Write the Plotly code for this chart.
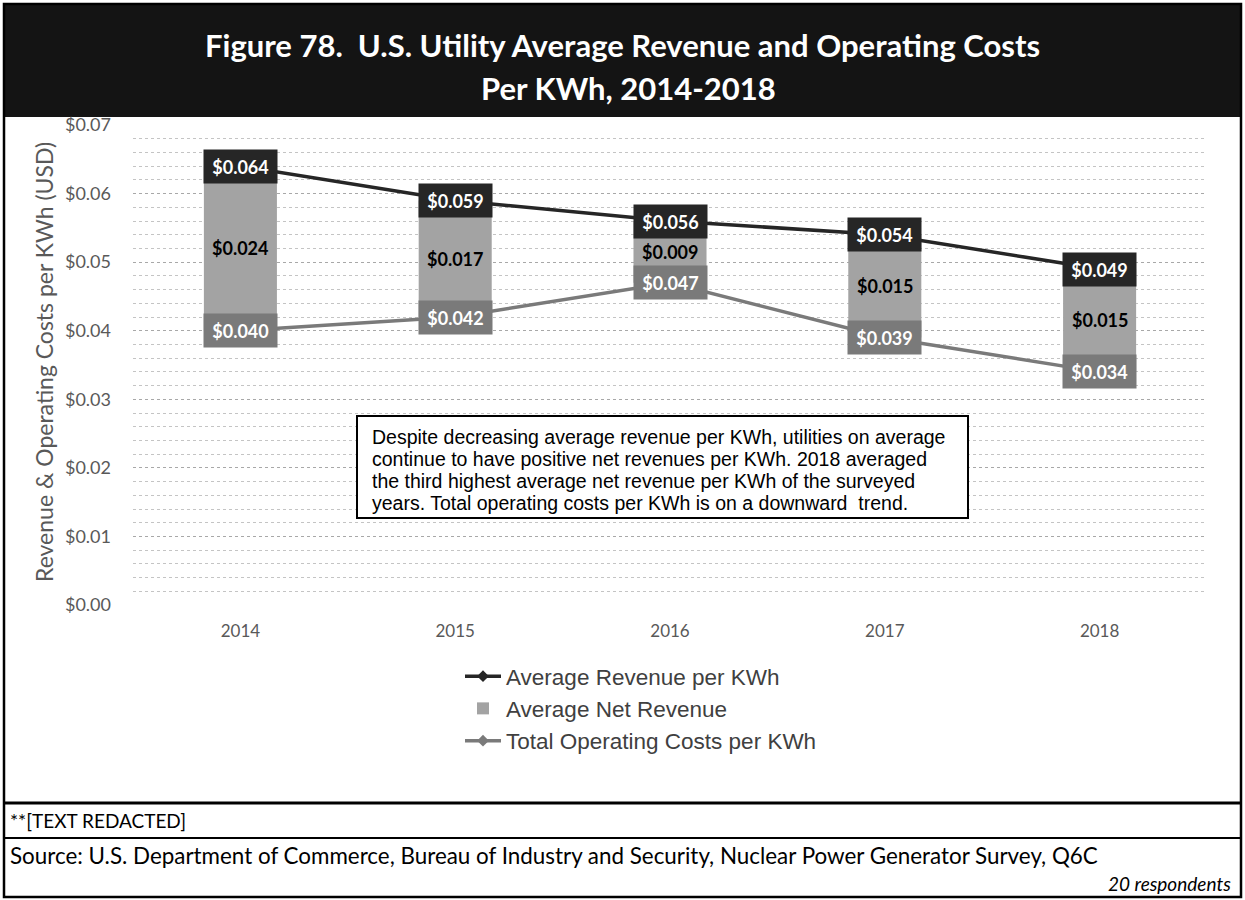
import plotly.graph_objects as go

# Survey results, USD per kWh
years = ["2014", "2015", "2016", "2017", "2018"]
revenue = [0.064, 0.059, 0.056, 0.054, 0.049]
op_costs = [0.040, 0.042, 0.047, 0.039, 0.034]
net_revenue = [0.024, 0.017, 0.009, 0.015, 0.015]

REV_COLOR = "#262626"
NET_COLOR = "#a3a3a3"
COST_COLOR = "#7a7a7a"
CAL = "Lato, 'Open Sans', sans-serif"
ARIAL = "'Liberation Sans', Arial, sans-serif"

W, H = 1245, 900
ML, MR, MT, MB = 133, 38, 125, 295
PW, PH = W - ML - MR, H - MT - MB

xpos = list(range(len(years)))  # slot index for each year


def px(x):
    return (x - ML) / PW


def py(y):
    return (H - MB - y) / PH


fig = go.Figure()

# Net revenue: floating bar from operating cost up to revenue
fig.add_trace(go.Bar(
    x=xpos, y=net_revenue, base=op_costs, width=0.34,
    marker=dict(color=NET_COLOR, line=dict(width=0)),
    name="Average Net Revenue", legendrank=2, hoverinfo="skip",
))
fig.add_trace(go.Scatter(
    x=xpos, y=revenue, mode="lines+markers",
    line=dict(color=REV_COLOR, width=3.5),
    marker=dict(symbol="diamond", size=9, color=REV_COLOR),
    name="Average Revenue per KWh", legendrank=1,
))
fig.add_trace(go.Scatter(
    x=xpos, y=op_costs, mode="lines+markers",
    line=dict(color=COST_COLOR, width=3.5),
    marker=dict(symbol="diamond", size=9, color=COST_COLOR),
    name="Total Operating Costs per KWh", legendrank=3,
))

annotations = []
# Value labels on the two lines (filled boxes) and inside the bars
for xi, rv, cs, nt in zip(xpos, revenue, op_costs, net_revenue):
    annotations.append(dict(
        x=xi, y=rv, xref="x", yref="y", text=f"${rv:.3f}", showarrow=False,
        font=dict(family=CAL, size=18, color="white", weight="bold"),
        bgcolor=REV_COLOR, width=73, height=33, borderpad=0,
        xanchor="center", yanchor="middle",
    ))
    annotations.append(dict(
        x=xi, y=cs, xref="x", yref="y", text=f"${cs:.3f}", showarrow=False,
        font=dict(family=CAL, size=18, color="white", weight="bold"),
        bgcolor=COST_COLOR, width=73, height=33, borderpad=0,
        xanchor="center", yanchor="middle",
    ))
    annotations.append(dict(
        x=xi, y=cs + nt / 2, xref="x", yref="y", text=f"${nt:.3f}", showarrow=False,
        font=dict(family=CAL, size=18, color="black", weight="bold"),
        xanchor="center", yanchor="middle",
    ))

# Title banner text
annotations.append(dict(
    x=px(622), y=py(45), xref="paper", yref="paper", showarrow=False,
    text="Figure 78.  U.S. Utility Average Revenue and Operating Costs",
    font=dict(family=CAL, size=31, color="white", weight="bold"),
    xanchor="center", yanchor="middle",
))
annotations.append(dict(
    x=px(628), y=py(88), xref="paper", yref="paper", showarrow=False,
    text="Per KWh, 2014-2018",
    font=dict(family=CAL, size=31, color="white", weight="bold"),
    xanchor="center", yanchor="middle",
))

# Y-axis title
annotations.append(dict(
    x=px(44), y=py(362), xref="paper", yref="paper", showarrow=False,
    text="Revenue & Operating Costs per KWh (USD)", textangle=-90,
    font=dict(family=CAL, size=23, color="#595959"),
    xanchor="center", yanchor="middle",
))

# Commentary box text
note_lines = [
    "Despite decreasing average revenue per KWh, utilities on average",
    "continue to have positive net revenues per KWh. 2018 averaged",
    "the third highest average net revenue per KWh of the surveyed",
    "years. Total operating costs per KWh is on a downward  trend.",
]
for i, line in enumerate(note_lines):
    annotations.append(dict(
        x=px(370), y=py(437 + i * 22), xref="paper", yref="paper", showarrow=False,
        text=line, font=dict(family=ARIAL, size=19.5, color="black"),
        xanchor="left", yanchor="middle",
    ))

# Footer text
annotations.append(dict(
    x=px(8), y=py(820), xref="paper", yref="paper", showarrow=False,
    text="**[TEXT REDACTED]", font=dict(family=CAL, size=19, color="black"),
    xanchor="left", yanchor="middle",
))
annotations.append(dict(
    x=px(8), y=py(855), xref="paper", yref="paper", showarrow=False,
    text="Source: U.S. Department of Commerce, Bureau of Industry and Security, Nuclear Power Generator Survey, Q6C",
    font=dict(family=CAL, size=22.4, color="black"),
    xanchor="left", yanchor="middle",
))
annotations.append(dict(
    x=px(1233), y=py(883), xref="paper", yref="paper", showarrow=False,
    text="<i>20 respondents</i>", font=dict(family=CAL, size=19, color="black"),
    xanchor="right", yanchor="middle",
))

shapes = [
    # title banner
    dict(type="rect", xref="paper", yref="paper", layer="below",
         x0=px(3), x1=px(1242), y0=py(3), y1=py(117),
         fillcolor="#141414", line=dict(width=0)),
    # outer frame
    dict(type="rect", xref="paper", yref="paper",
         x0=px(4), x1=px(1241), y0=py(4), y1=py(897),
         line=dict(color="black", width=2.5)),
    # footer separators
    dict(type="line", xref="paper", yref="paper",
         x0=px(4), x1=px(1241), y0=py(803), y1=py(803),
         line=dict(color="black", width=3)),
    dict(type="line", xref="paper", yref="paper",
         x0=px(4), x1=px(1241), y0=py(838), y1=py(838),
         line=dict(color="black", width=2)),
    # commentary box
    dict(type="rect", xref="paper", yref="paper",
         x0=px(357), x1=px(968), y0=py(416), y1=py(518),
         fillcolor="white", line=dict(color="black", width=2)),
]

fig.update_layout(
    width=W, height=H,
    margin=dict(l=ML, r=MR, t=MT, b=MB),
    paper_bgcolor="white", plot_bgcolor="white",
    barmode="overlay",
    showlegend=True,
    legend=dict(
        x=px(460), y=py(655), xanchor="left", yanchor="top",
        font=dict(family=ARIAL, size=22.5, color="#404040"),
        bgcolor="rgba(0,0,0,0)", itemwidth=36,
        traceorder="normal",
    ),
    annotations=annotations,
    shapes=shapes,
    xaxis=dict(
        range=[-0.5, len(years) - 0.5],
        tickmode="array", tickvals=xpos, ticktext=years,
        showgrid=False, showline=False, zeroline=False,
        ticks="", tickfont=dict(family=CAL, size=17, color="#595959"),
        ticklabelstandoff=14,
    ),
    yaxis=dict(
        range=[0, 0.0700001], dtick=0.01, tickprefix="$", tickformat=".2f",
        showline=False, zeroline=False, ticks="",
        tickfont=dict(family=CAL, size=18, color="#595959"),
        ticklabelstandoff=21,
        showgrid=True, gridcolor="#a8a8a8", griddash="dot", gridwidth=1,
        minor=dict(dtick=0.002, showgrid=True, gridcolor="#c4c4c4",
                   griddash="dot", gridwidth=1),
    ),
)

fig.write_html("out.html")
